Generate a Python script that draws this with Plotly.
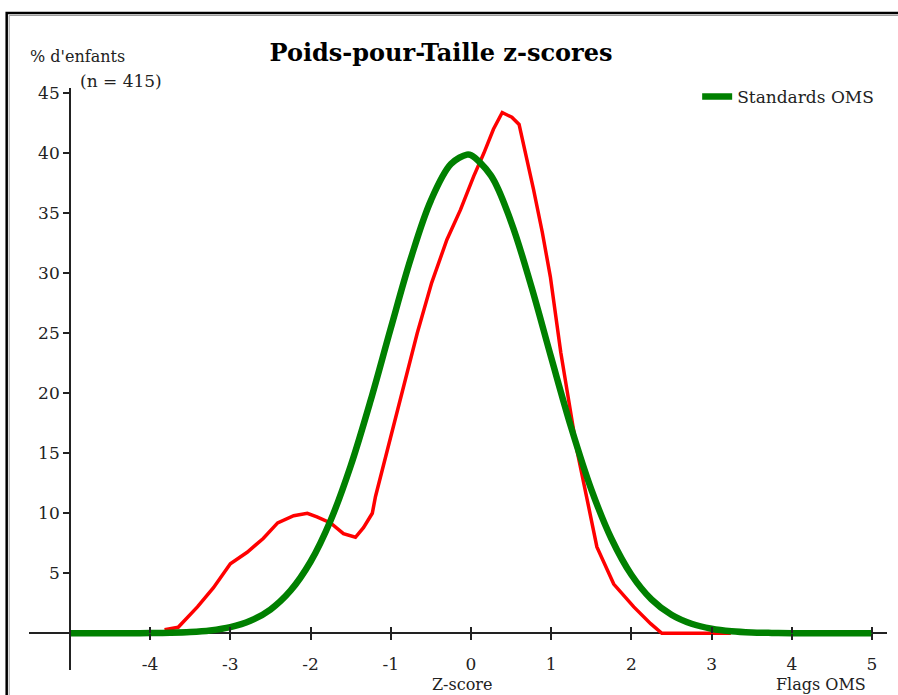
import plotly.graph_objects as go

# Observed distribution (red)
z_obs = [-3.82, -3.65, -3.41, -3.21, -3.0, -2.79, -2.59, -2.41, -2.21, -2.04, -1.92,
         -1.75, -1.59, -1.44, -1.34, -1.23, -1.19, -1.05, -0.92, -0.795, -0.67,
         -0.49, -0.30, -0.13, 0.035, 0.16, 0.28, 0.39, 0.51, 0.60, 0.70, 0.78, 0.89,
         0.99, 1.12, 1.20, 1.32, 1.45, 1.57, 1.78, 2.03, 2.24, 2.38, 3.24]
pct_obs = [0.3, 0.5, 2.2, 3.8, 5.8, 6.75, 7.9, 9.2, 9.8, 10.0, 9.7,
           9.2, 8.3, 8.0, 8.8, 10.0, 11.4, 15.0, 18.6, 21.7, 25.0,
           29.2, 32.8, 35.3, 38.1, 40.0, 42.0, 43.4, 43.0, 42.4, 39.5, 37.0, 33.4,
           29.7, 23.4, 20.3, 15.3, 11.1, 7.2, 4.1, 2.2, 0.8, 0.0, 0.0]

# WHO standard (green)
z_who = [-5.0, -4.75, -4.5, -4.25, -4.0, -3.75, -3.5, -3.25, -3.0, -2.75, -2.5, -2.25,
         -2.0, -1.75, -1.5, -1.25, -1.0, -0.75, -0.5, -0.25, -0.05, 0.0, 0.25, 0.5,
         0.75, 1.0, 1.25, 1.5, 1.75, 2.0, 2.25, 2.5, 2.75, 3.0, 3.25, 3.5, 3.75,
         4.0, 4.5, 5.0]
pct_who = [0.0, 0.0, 0.002, 0.006, 0.016, 0.042, 0.104, 0.24, 0.51, 1.04, 1.98, 3.55,
           5.96, 9.40, 13.94, 19.42, 25.41, 31.23, 36.06, 39.10, 39.89, 39.84, 38.14, 34.29,
           28.97, 22.99, 17.14, 12.00, 7.90, 4.88, 2.83, 1.54, 0.79, 0.38, 0.17, 0.07, 0.03,
           0.01, 0.0, 0.0]

x_ticks = [-4, -3, -2, -1, 0, 1, 2, 3, 4, 5]
x_tick_labels = ["-4", "-3", "-2", "-1", "0", "1", "2", "3", "4", "5"]
y_ticks = [5, 10, 15, 20, 25, 30, 35, 40, 45]

FONT = "DejaVu Serif"
TXT = "#222222"
FS = 17

# pixel geometry helpers (layout only)
L, R, T, B = 29.3, 886.7, 88.0, 670.0
W, H = 898, 695
def px(p):
    return (p - L) / (R - L)
def py(p):
    return (B - p) / (B - T)

X_RANGE = [-5.51, 5.187]
Y_RANGE = [-3.06, 45.44]

fig = go.Figure()
fig.add_trace(go.Scatter(x=z_obs, y=pct_obs, mode="lines", showlegend=False,
                         line=dict(color="#ff0000", width=3.5), hoverinfo="skip"))
fig.add_trace(go.Scatter(x=z_who, y=pct_who, mode="lines", name="Standards OMS",
                         line=dict(color="#008000", width=6.5, shape="spline"),
                         hoverinfo="skip"))

x_axis_pos = (0 - Y_RANGE[0]) / (Y_RANGE[1] - Y_RANGE[0])
y_axis_pos = (-5 - X_RANGE[0]) / (X_RANGE[1] - X_RANGE[0])

fig.update_layout(
    width=W, height=H,
    margin=dict(l=L, r=W - R, t=T, b=H - B, pad=0),
    paper_bgcolor="white", plot_bgcolor="white",
    font=dict(family=FONT, size=FS, color=TXT),
    title=dict(text="<b>Poids-pour-Taille z-scores</b>", x=441 / W, xref="container",
               xanchor="center", y=1 - 53 / H, yref="container", yanchor="middle",
               font=dict(family=FONT, size=24, color="#000000")),
    xaxis=dict(range=X_RANGE, tickvals=x_ticks, ticktext=x_tick_labels,
               ticks="outside", ticklen=6,
               tickcolor="#222", tickwidth=1.5, showgrid=False, zeroline=False,
               showline=False, anchor="free", position=x_axis_pos,
               ticklabelstandoff=9, tickfont=dict(family=FONT, size=FS, color=TXT)),
    xaxis2=dict(range=X_RANGE, tickvals=x_ticks, ticks="inside", ticklen=6,
                tickcolor="#222", tickwidth=1.5, showgrid=False, zeroline=False,
                showline=False, showticklabels=False, overlaying="x",
                anchor="free", position=x_axis_pos),
    yaxis=dict(range=Y_RANGE, tickvals=y_ticks, ticks="outside", ticklen=6,
               tickcolor="#222", tickwidth=1.5, showgrid=False,
               zeroline=True, zerolinecolor="#222", zerolinewidth=1.5,
               showline=True, linecolor="#222", linewidth=1.5,
               anchor="free", position=y_axis_pos,
               tickfont=dict(family=FONT, size=FS, color=TXT)),
    legend=dict(x=px(697), y=py(97), xanchor="left", yanchor="middle",
                bgcolor="rgba(0,0,0,0)", font=dict(family=FONT, size=FS, color=TXT)),
    showlegend=True,
)
# dummy trace to activate xaxis2 (no visible marks)
fig.add_trace(go.Scatter(x=[None], y=[None], xaxis="x2", showlegend=False,
                         hoverinfo="skip"))

fig.add_annotation(text="% d'enfants", xref="paper", yref="paper", x=px(28), y=py(57),
                   xanchor="left", yanchor="middle", showarrow=False,
                   font=dict(family=FONT, size=16, color=TXT))
fig.add_annotation(text="(n = 415)", xref="paper", yref="paper", x=px(78), y=py(81),
                   xanchor="left", yanchor="middle", showarrow=False,
                   font=dict(family=FONT, size=FS, color=TXT))
fig.add_annotation(text="Z-score", xref="paper", yref="paper", x=px(462), y=py(684),
                   xanchor="center", yanchor="middle", showarrow=False,
                   font=dict(family=FONT, size=16, color=TXT))
fig.add_annotation(text="Flags OMS", xref="paper", yref="paper", x=px(821), y=py(684),
                   xanchor="center", yanchor="middle", showarrow=False,
                   font=dict(family=FONT, size=16, color=TXT))

# outer frame
fig.add_shape(type="rect", xref="paper", yref="paper",
              x0=px(7), x1=px(910), y0=py(710), y1=py(13),
              line=dict(color="#000000", width=2.5), fillcolor="rgba(0,0,0,0)", layer="above")
fig.add_shape(type="rect", xref="paper", yref="paper",
              x0=px(9.5), x1=px(910), y0=py(710), y1=py(15.5),
              line=dict(color="#9a9a9a", width=1), fillcolor="rgba(0,0,0,0)", layer="above")

fig.write_html("out.html")
